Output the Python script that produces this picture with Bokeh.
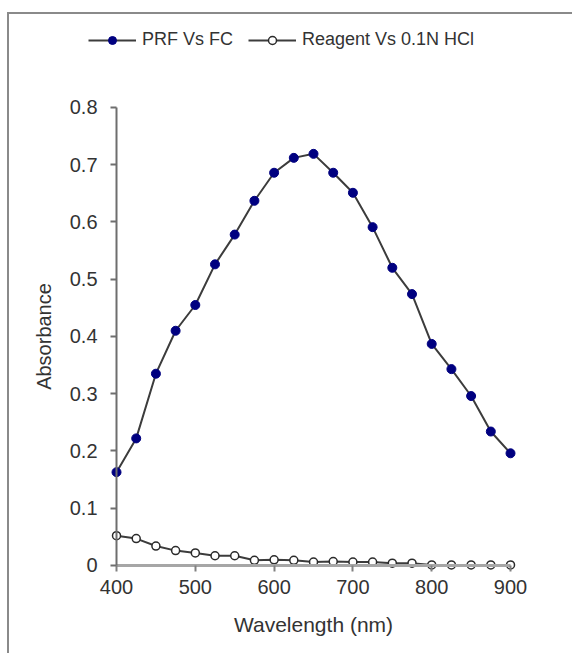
from bokeh.plotting import figure
from bokeh.models import Range1d, FixedTicker, Legend, LegendItem, LinearAxis
from bokeh.embed import file_html
from bokeh.resources import INLINE

# Absorbance spectra, 400-900 nm in 25 nm steps
wavelength = [400, 425, 450, 475, 500, 525, 550, 575, 600, 625, 650,
              675, 700, 725, 750, 775, 800, 825, 850, 875, 900]
prf_vs_fc = [0.163, 0.222, 0.335, 0.410, 0.455, 0.526, 0.578, 0.637, 0.686, 0.712, 0.719,
             0.686, 0.651, 0.591, 0.520, 0.474, 0.387, 0.343, 0.296, 0.234, 0.196]
reagent_vs_hcl = [0.052, 0.047, 0.034, 0.026, 0.022, 0.017, 0.017, 0.009, 0.010, 0.009, 0.006,
                  0.007, 0.006, 0.006, 0.004, 0.004, 0.001, 0.001, 0.001, 0.001, 0.001]

x_ticks = [400, 500, 600, 700, 800, 900]
y_ticks = [0, 0.1, 0.2, 0.3, 0.4, 0.5, 0.6, 0.7, 0.8]
y_labels = {0: "0", 0.1: "0.1", 0.2: "0.2", 0.3: "0.3", 0.4: "0.4",
            0.5: "0.5", 0.6: "0.6", 0.7: "0.7", 0.8: "0.8"}

FONT = "Liberation Sans"
TEXT = "#333333"

# the frame fills the whole chart area; the axes cross inside it at (400, 0)
p = figure(width=565, height=641, output_backend="svg", toolbar_location=None,
           x_range=Range1d(264.2, 981.2), y_range=Range1d(-0.1572, 0.9624),
           x_axis_location=None, y_axis_location=None,
           min_border=0)
p.margin = (12, 0, 0, 7)
p.styles = {"border-left": "2px solid #8a8a8a", "border-top": "2px solid #8a8a8a"}

p.grid.visible = False
p.outline_line_color = None
p.background_fill_color = "white"
p.border_fill_color = "white"

x_axis = LinearAxis(fixed_location=0, bounds=(400, 900), ticker=FixedTicker(ticks=x_ticks),
                    axis_label="Wavelength (nm)",
                    axis_line_color="#a6a6a6", axis_line_width=3,
                    major_tick_line_color="#808080", major_tick_line_width=2)
y_axis = LinearAxis(fixed_location=400, bounds=(0, 0.8), ticker=FixedTicker(ticks=y_ticks),
                    axis_label="Absorbance", major_label_overrides=y_labels,
                    axis_line_color="#6e6e6e", axis_line_width=2,
                    major_tick_line_color="#6e6e6e", major_tick_line_width=2)
for ax in (x_axis, y_axis):
    ax.minor_tick_line_color = None
    ax.major_tick_in = 0
    ax.major_tick_out = 6
    ax.major_label_text_font = FONT
    ax.major_label_text_font_size = "20px"
    ax.major_label_text_color = TEXT
    ax.axis_label_text_font = FONT
    ax.axis_label_text_font_size = "20px"
    ax.axis_label_text_font_style = "normal"
    ax.axis_label_text_color = TEXT
x_axis.axis_label_text_font_size = "21px"
x_axis.major_label_standoff = 9
y_axis.major_label_standoff = 13
x_axis.axis_label_standoff = 15
y_axis.axis_label_standoff = 12
p.add_layout(x_axis, "below")
p.add_layout(y_axis, "left")

line_color = "#3c3c3c"
l1 = p.line(wavelength, prf_vs_fc, line_color=line_color, line_width=2)
m1 = p.scatter(wavelength, prf_vs_fc, marker="circle", size=9,
               fill_color="#000080", line_color="#000080")
l2 = p.line(wavelength, reagent_vs_hcl, line_color=line_color, line_width=2)
m2 = p.scatter(wavelength, reagent_vs_hcl, marker="circle", size=8,
               fill_color="white", line_color="#2a2a2a", line_width=1.5)

legend = Legend(items=[LegendItem(label="PRF Vs FC", renderers=[l1, m1]),
                       LegendItem(label="Reagent Vs 0.1N HCl", renderers=[l2, m2])],
                orientation="horizontal", location=(79, 605),
                padding=0, margin=0, spacing=15, glyph_width=48, glyph_height=20,
                label_height=20, label_standoff=6,
                label_text_font=FONT, label_text_font_size="18px", label_text_color=TEXT,
                border_line_alpha=0, background_fill_alpha=0)
p.add_layout(legend, "center")

open("out.html", "w").write(file_html(p, INLINE))
